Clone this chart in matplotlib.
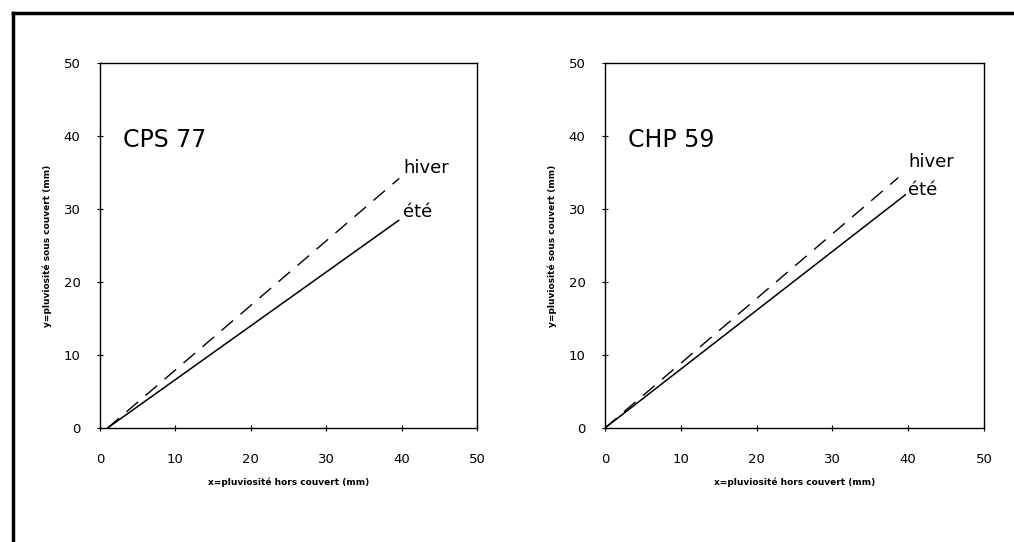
import matplotlib
matplotlib.use("Agg")
import matplotlib.pyplot as plt
from matplotlib.lines import Line2D

# Data
panels = ["CPS 77", "CHP 59"]
x_ete = [[1.0, 39.7], [0.0, 39.7]]
y_ete = [[0.0, 28.5], [0.0, 32.0]]
x_hiver = [[1.0, 39.7], [0.0, 38.7]]
y_hiver = [[0.0, 34.2], [0.0, 34.3]]
label_hiver = "hiver"
label_ete = "été"
ticks = [0, 10, 20, 30, 40, 50]
xlabel = "x=pluviosité hors couvert (mm)"
ylabel = "y=pluviosité sous couvert (mm)"

plt.rcParams['font.family'] = ['DejaVu Sans']
fig = plt.figure(figsize=(10.14, 5.42), dpi=100)

positions = [[0.0986, 0.2103, 0.3718, 0.6735], [0.5966, 0.2103, 0.3738, 0.6735]]
label_pos = [((40.2, 35.6), (40.2, 29.6)), ((40.0, 36.4), (40.0, 32.6))]

for i, name in enumerate(panels):
    ax = fig.add_axes(positions[i])
    ax.plot(x_ete[i], y_ete[i], color='black', lw=1.1, solid_capstyle='butt')
    ax.plot(x_hiver[i], y_hiver[i], color='black', lw=1.0, dashes=(11, 7))
    ax.set_xlim(0, 50)
    ax.set_ylim(0, 50)
    ax.set_xticks(ticks)
    ax.set_yticks(ticks)
    ax.tick_params(direction='inout', length=4, width=0.8, labelsize=9.5)
    ax.tick_params(axis='x', pad=16)
    ax.tick_params(axis='y', pad=12)
    for s in ax.spines.values():
        s.set_linewidth(1.0)
    ax.set_xlabel(xlabel, fontsize=6.5, fontweight='bold', labelpad=8)
    ax.set_ylabel(ylabel, fontsize=6.5, fontweight='bold', labelpad=8.5)
    ax.text(3, 39.5, name, fontsize=17, va='center', ha='left')
    (hx, hy), (ex, ey) = label_pos[i]
    ax.text(hx, hy, label_hiver, fontsize=13, va='center', ha='left')
    ax.text(ex, ey, label_ete, fontsize=13, va='center', ha='left')

# outer frame (top and left only)
fig.add_artist(Line2D([13/1014, 1.0], [1-13/542, 1-13/542], transform=fig.transFigure,
                      color='black', lw=2.5))
fig.add_artist(Line2D([13/1014, 13/1014], [0.0, 1-13/542], transform=fig.transFigure,
                      color='black', lw=2.5))

fig.savefig("out.png", dpi=100, facecolor='white')
